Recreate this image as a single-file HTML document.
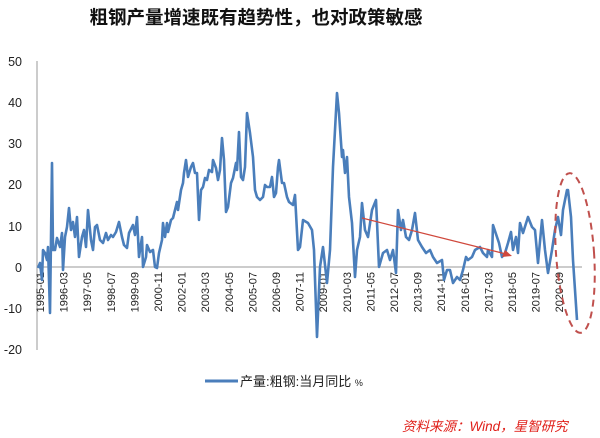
<!DOCTYPE html>
<html><head><meta charset="utf-8"><style>
body{margin:0;background:#fff;}
svg{display:block;font-family:"Liberation Sans","Noto Sans CJK SC",sans-serif;}
</style></head><body>
<svg width="600" height="438" viewBox="0 0 600 438" xmlns="http://www.w3.org/2000/svg">
<text x="256" y="24" text-anchor="middle" font-size="18.5" font-weight="bold" fill="#111" font-family="'Noto Sans CJK SC',sans-serif">粗钢产量增速既有趋势性，也对政策敏感</text>
<g font-size="12.5" fill="#222" text-anchor="end">
<text x="22" y="66">50</text><text x="22" y="107">40</text><text x="22" y="148">30</text><text x="22" y="189">20</text><text x="22" y="231">10</text><text x="22" y="272">0</text><text x="22" y="313">-10</text><text x="22" y="354">-20</text>
</g>
<line x1="37" y1="61" x2="37" y2="350" stroke="#999" stroke-width="1"/>
<line x1="37" y1="267" x2="582" y2="267" stroke="#999" stroke-width="1"/>
<g font-size="11" fill="#222" text-anchor="end">
<text transform="translate(44,272) rotate(-90)">1995-01</text>
<text transform="translate(67.6,272) rotate(-90)">1996-03</text>
<text transform="translate(91.2,272) rotate(-90)">1997-05</text>
<text transform="translate(114.8,272) rotate(-90)">1998-07</text>
<text transform="translate(138.4,272) rotate(-90)">1999-09</text>
<text transform="translate(162,272) rotate(-90)">2000-11</text>
<text transform="translate(185.6,272) rotate(-90)">2002-01</text>
<text transform="translate(209.2,272) rotate(-90)">2003-03</text>
<text transform="translate(232.8,272) rotate(-90)">2004-05</text>
<text transform="translate(256.4,272) rotate(-90)">2005-07</text>
<text transform="translate(280,272) rotate(-90)">2006-09</text>
<text transform="translate(303.6,272) rotate(-90)">2007-11</text>
<text transform="translate(327.2,272) rotate(-90)">2009-01</text>
<text transform="translate(350.8,272) rotate(-90)">2010-03</text>
<text transform="translate(374.4,272) rotate(-90)">2011-05</text>
<text transform="translate(398,272) rotate(-90)">2012-07</text>
<text transform="translate(421.6,272) rotate(-90)">2013-09</text>
<text transform="translate(445.2,272) rotate(-90)">2014-11</text>
<text transform="translate(468.8,272) rotate(-90)">2016-01</text>
<text transform="translate(492.4,272) rotate(-90)">2017-03</text>
<text transform="translate(516,272) rotate(-90)">2018-05</text>
<text transform="translate(539.6,272) rotate(-90)">2019-07</text>
<text transform="translate(563.2,272) rotate(-90)">2020-09</text>
</g>
<polyline fill="none" stroke="#4a7ebb" stroke-width="2.6" stroke-linejoin="round" points="38,268 40,263 42,280 43,250 45,253 47,260 48,247 50,313 52,163 53,250 55,250 57,238 60,247 62,233 63,270 65,237 67,227 69,208 71,230 73,222 75,237 77,217 79,257 82,237 84,230 86,247 88,210 91,240 93,250 95,227 97,225 100,240 103,243 106,233 108,240 111,235 113,237 116,232 119,222 122,237 124,245 127,248 129,233 133,225 135,235 137,217 139,257 142,237 143,267 146,257 147,245 150,252 153,250 155,267 157,268 159,253 162,240 163,223 165,237 167,223 168,232 171,220 173,218 175,210 177,202 178,210 181,190 183,183 184,173 186,160 188,177 191,167 193,163 195,173 197,173 199,220 201,190 203,187 205,178 207,180 209,170 212,172 213,160 216,168 218,180 220,170 222,138 224,160 226,212 228,207 231,183 233,178 236,163 237,170 239,132 241,177 243,180 245,167 247,113 250,133 253,157 255,190 257,197 260,200 263,197 265,185 267,187 270,187 272,177 274,197 276,193 278,167 279,160 282,183 284,183 287,197 289,202 293,205 295,195 298,250 300,247 303,220 308,223 312,230 314,250 317,337 320,267 323,247 327,283 330,250 333,167 337,93 339,113 342,157 343,150 345,173 347,157 349,197 352,223 355,277 357,250 360,237 362,203 365,230 368,237 372,210 376,200 379,267 383,253 387,250 390,260 393,250 396,273 398,210 401,230 403,220 406,237 409,240 412,230 415,213 418,240 422,247 426,253 430,250 433,257 437,263 442,260 444,280 447,270 450,270 453,283 457,277 460,280 463,270 466,257 468,260 472,257 475,250 480,247 483,253 487,257 488,250 492,257 493,225 497,237 499,243 502,257 505,253 508,243 511,232 513,250 516,237 518,253 520,223 523,233 528,217 532,227 535,230 538,263 542,220 545,250 548,273 552,250 555,230 558,217 561,235 563,210 567,190 568,190 571,217 573,260 577,320"/>
<line x1="362" y1="218" x2="506" y2="254" stroke="#d0483c" stroke-width="1.2"/>
<polygon points="512,256 502,257 505,250" fill="#d0483c"/>
<ellipse cx="575" cy="253" rx="19" ry="80" transform="rotate(-4 575 253)" fill="none" stroke="#c0504d" stroke-width="2" stroke-dasharray="7,5"/>
<line x1="205" y1="381" x2="238" y2="381" stroke="#4a7ebb" stroke-width="3"/>
<text x="240" y="386" font-size="13" fill="#222">产量:粗钢:当月同比 <tspan font-size="9">%</tspan></text>
<text x="402" y="431" font-size="13.5" fill="#e0201a" font-style="italic">资料来源：Wind，星智研究</text>
</svg>
</body></html>
